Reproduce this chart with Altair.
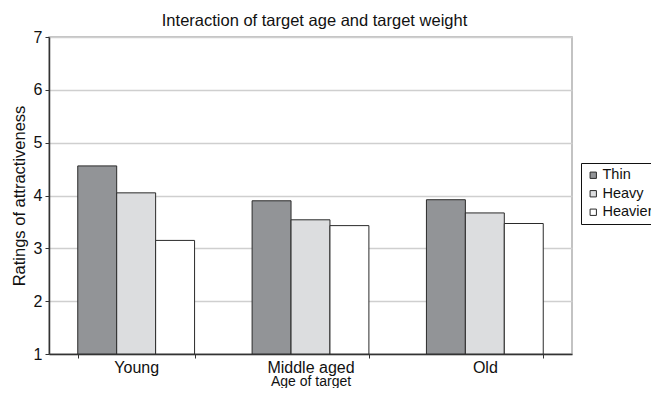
import altair as alt
import pandas as pd

ages = ["Young", "Middle aged", "Old"]
weights = ["Thin", "Heavy", "Heavier"]
thin = [4.56, 3.90, 3.92]
heavy = [4.05, 3.54, 3.67]
heavier = [3.15, 3.43, 3.47]
colors = ["#929497", "#dcdddf", "#ffffff"]

rows = []
for i, a in enumerate(ages):
    for w, vals in zip(weights, [thin, heavy, heavier]):
        rows.append({"age": a, "weight": w, "rating": vals[i]})
df = pd.DataFrame(rows)

FONT = "Liberation Sans"

chart = alt.Chart(df).mark_bar(stroke="#2a2a2a", strokeWidth=1, clip=True).encode(
    x=alt.X("age:N", sort=ages, title="Age of target",
            scale=alt.Scale(paddingInner=0.33, paddingOuter=0.165),
            axis=alt.Axis(labelAngle=0, tickBand="extent", grid=False,
                          domainColor="#333333", domainWidth=1.5,
                          tickColor="#333333", tickSize=4,
                          labelFontSize=16, labelColor="#111111", labelFont=FONT,
                          labelPadding=1, titleFontSize=14, titleFont=FONT,
                          titleFontWeight="normal", titleColor="#111111",
                          titlePadding=-1)),
    xOffset=alt.XOffset("weight:N", sort=weights,
                        scale=alt.Scale(paddingInner=0, paddingOuter=0)),
    y=alt.Y("rating:Q", title="Ratings of attractiveness",
            scale=alt.Scale(domain=[1, 7], nice=False, zero=False),
            axis=alt.Axis(values=[1, 2, 3, 4, 5, 6, 7], format="d",
                          grid=True, gridColor="#cfcfcf", gridWidth=1.5,
                          domainColor="#333333", domainWidth=1.5,
                          tickColor="#333333", tickSize=4,
                          labelFontSize=16, labelColor="#111111", labelFont=FONT,
                          labelPadding=3, titleFontSize=16.5, titleFont=FONT,
                          titleFontWeight="normal", titleColor="#111111",
                          titlePadding=6)),
    y2=alt.Y2(datum=1),
    color=alt.Color("weight:N", sort=weights,
                    scale=alt.Scale(domain=weights, range=colors),
                    legend=alt.Legend(title=None, orient="none",
                                      legendX=532, legendY=126,
                                      symbolType="square", symbolSize=40,
                                      symbolStrokeColor="#2a2a2a",
                                      symbolStrokeWidth=1,
                                      labelFontSize=14.5, labelFont=FONT,
                                      labelColor="#111111", rowPadding=3.5,
                                      labelOffset=2,
                                      strokeColor="#111111", padding=5,
                                      fillColor="white")),
).properties(
    width=523, height=317,
    title=alt.TitleParams("Interaction of target age and target weight",
                          fontSize=16.5, font=FONT, fontWeight="normal",
                          color="#111111", anchor="middle", offset=0, dx=4),
    autosize=alt.AutoSizeParams(type="none"),
    padding={"left": 41, "top": 29, "right": 79, "bottom": 34},
).configure_view(stroke="#b0b0b0", strokeWidth=1.5)

chart.save("out.html", embed_options={"renderer": "svg", "actions": False})
